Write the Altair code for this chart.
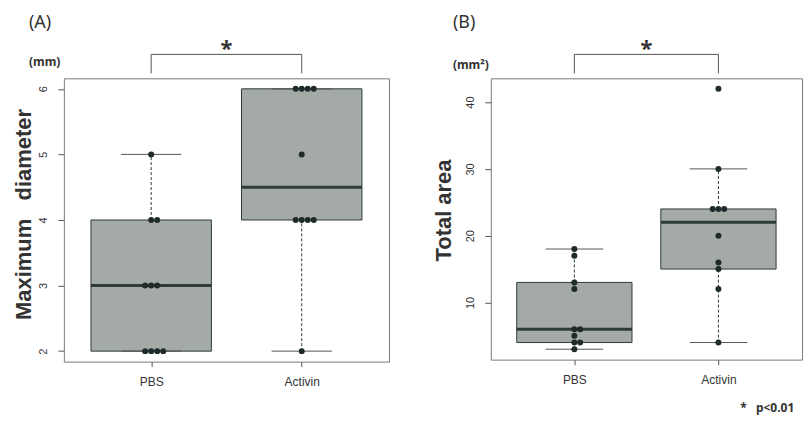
import json
import numpy as np
import pandas as pd
import altair as alt

# ---------------- data ----------------
groups = ["PBS", "Activin"]
diam_pbs = [2, 2, 2, 2, 3, 3, 3, 4, 4, 5]
diam_activin = [2, 4, 4, 4, 4, 5, 6, 6, 6, 6]
area_pbs = [3, 4, 4, 5, 6, 6, 12, 13, 17, 18]
area_activin = [4, 12, 15, 16, 20, 24, 24, 24, 30, 42]
diam_ticks = [2, 3, 4, 5, 6]
area_ticks = [10, 20, 30, 40]
panel_letters = ["(A)", "(B)"]
units = ["(mm)", "(mm\u00b2)"]
y_titles = ["Maximum\u00a0\u00a0\u00a0diameter", "Total area"]
sig_mark = ["*"]
footnote = ["*\u00a0\u00a0\u00a0p<0.01"]

# ---------------- styles ----------------
FILL = "#a4aba7"
LINE = "#2e3b3a"
DOT = "#1f2a2a"
FRAME = "#7a7a7a"
TXT = "#333333"
SANS = "Liberation Sans"
ANN = "Noto Sans"


def fivenum(v):
    s = np.sort(np.asarray(v, float))
    n = len(s)
    n4 = np.floor((n + 3) / 2) / 2
    d = np.array([1, n4, (n + 1) / 2, n + 1 - n4, n]) - 1
    return 0.5 * (s[np.floor(d).astype(int)] + s[np.ceil(d).astype(int)])


def build(series):
    stats_rows, pt_rows = [], []
    for i, (g, vals) in enumerate(zip(groups, series)):
        pos = i + 1
        _, q1, med, q3, _ = fivenum(vals)
        iqr = q3 - q1
        arr = np.asarray(vals, float)
        lo = arr[arr >= q1 - 1.5 * iqr].min()
        hi = arr[arr <= q3 + 1.5 * iqr].max()
        stats_rows.append(dict(group=g, pos=pos, lo=lo, q1=q1, med=med, q3=q3, hi=hi))
        counts = pd.Series(vals).value_counts()
        seen = {}
        for v in vals:
            k = seen.get(v, 0)
            seen[v] = k + 1
            n = counts[v]
            pt_rows.append(dict(group=g, pos=pos, value=v, slot=k - (n - 1) // 2))
    return pd.DataFrame(stats_rows), pd.DataFrame(pt_rows)


def panel(series, ticks, ytitle, letter, unit, w, h, title_x, title_y, unit_x, unit_y,
          slot_step, foot=False):
    stats, pts = build(series)
    allv = np.concatenate([np.asarray(s, float) for s in series])
    r = allv.max() - allv.min()
    ydom = [allv.min() - 0.04 * r, allv.max() + 0.04 * r]
    xdom = [1 - 0.5 - 0.04 * 2, 2 + 0.5 + 0.04 * 2]
    xs = alt.Scale(domain=xdom, nice=False, zero=False)
    ys = alt.Scale(domain=ydom, nice=False, zero=False)
    xaxis = alt.Axis(values=[1, 2], labelExpr=json.dumps(groups) + "[datum.value - 1]",
                     title=None, domain=False, grid=False, tickSize=5, tickColor="#555",
                     labelFont=SANS, labelFontSize=12, labelColor=TXT, labelPadding=10)
    yaxis = alt.Axis(values=ticks, title=ytitle, domain=False, grid=False, tickSize=6,
                     tickColor="#555", labelAngle=270, labelAlign="center",
                     labelBaseline="bottom", labelFont=SANS, labelFontSize=11,
                     labelColor=TXT, labelPadding=9, titleAngle=270,
                     titleBaseline="alphabetic", titleAlign="center", titleX=title_x,
                     titleY=title_y, titleFont=SANS, titleFontSize=22,
                     titleFontWeight="bold", titleColor=TXT)

    sb = alt.Chart(stats)
    box = sb.mark_rect(fill=FILL, stroke=LINE, strokeWidth=1).transform_calculate(
        xl="datum.pos - 0.4", xr="datum.pos + 0.4").encode(
        x=alt.X("xl:Q", scale=xs, axis=xaxis), x2="xr:Q",
        y=alt.Y("q1:Q", scale=ys, axis=yaxis), y2="q3:Q")
    med = sb.mark_rule(color=LINE, strokeWidth=3).transform_calculate(
        xl="datum.pos - 0.4", xr="datum.pos + 0.4").encode(
        x=alt.X("xl:Q", scale=xs, axis=xaxis), x2="xr:Q",
        y=alt.Y("med:Q", scale=ys, axis=yaxis))
    wh_up = sb.mark_rule(color=LINE, strokeWidth=1, strokeDash=[3, 2]).encode(
        x=alt.X("pos:Q", scale=xs, axis=xaxis),
        y=alt.Y("q3:Q", scale=ys, axis=yaxis), y2="hi:Q")
    wh_lo = sb.mark_rule(color=LINE, strokeWidth=1, strokeDash=[3, 2]).encode(
        x=alt.X("pos:Q", scale=xs, axis=xaxis),
        y=alt.Y("lo:Q", scale=ys, axis=yaxis), y2="q1:Q")
    cap_up = sb.mark_rule(color="#555", strokeWidth=1).transform_calculate(
        xl="datum.pos - 0.2", xr="datum.pos + 0.2").encode(
        x=alt.X("xl:Q", scale=xs, axis=xaxis), x2="xr:Q",
        y=alt.Y("hi:Q", scale=ys, axis=yaxis))
    cap_lo = sb.mark_rule(color="#555", strokeWidth=1).transform_calculate(
        xl="datum.pos - 0.2", xr="datum.pos + 0.2").encode(
        x=alt.X("xl:Q", scale=xs, axis=xaxis), x2="xr:Q",
        y=alt.Y("lo:Q", scale=ys, axis=yaxis))
    dots = alt.Chart(pts).mark_circle(color=DOT, opacity=1, size=36).transform_calculate(
        xp=f"datum.pos + datum.slot * {slot_step}").encode(
        x=alt.X("xp:Q", scale=xs, axis=xaxis),
        y=alt.Y("value:Q", scale=ys, axis=yaxis))

    # significance bracket between the two groups
    br_h = sb.mark_rule(color="#555", strokeWidth=1).transform_aggregate(
        a="min(pos)", b="max(pos)").encode(
        x=alt.X("a:Q", scale=xs, axis=xaxis), x2="b:Q", y=alt.value(-24))
    br_v = sb.mark_rule(color="#555", strokeWidth=1).encode(
        x=alt.X("pos:Q", scale=xs, axis=xaxis), y=alt.value(-24), y2=alt.value(-5))
    star = sb.mark_text(font=ANN, fontSize=22, fontWeight="bold", color=TXT,
                        baseline="alphabetic").transform_aggregate(
        m="mean(pos)").transform_calculate(t=json.dumps(sig_mark[0])).encode(
        x=alt.X("m:Q", scale=xs, axis=xaxis), y=alt.value(-22), text="t:N")

    lab = alt.Chart(pd.DataFrame({"t": [letter]})).mark_text(
        font=ANN, fontSize=18, color=TXT, align="left", baseline="alphabetic").encode(
        x=alt.value(unit_x), y=alt.value(-50), text="t:N")
    un = alt.Chart(pd.DataFrame({"t": [unit]})).mark_text(
        font=ANN, fontSize=12, fontWeight="bold", color=TXT, align="left",
        baseline="alphabetic").encode(x=alt.value(unit_x), y=alt.value(unit_y), text="t:N")

    layers = [box, wh_up, wh_lo, cap_up, cap_lo, med, dots, br_h, br_v, star, lab, un]
    if foot:
        fn = alt.Chart(pd.DataFrame({"t": footnote})).mark_text(
            font=ANN, fontSize=12, fontWeight="bold", color=TXT, align="left",
            baseline="alphabetic").encode(x=alt.value(250), y=alt.value(335), text="t:N")
        layers.append(fn)
    return alt.layer(*layers).properties(width=w, height=h)


pa = panel([diam_pbs, diam_activin], diam_ticks, y_titles[0], panel_letters[0], units[0],
           326, 284, -33, 136, -35, -12, 0.04)
pb = panel([area_pbs, area_activin], area_ticks, y_titles[1], panel_letters[1], units[1],
           312, 282, -40, 132, -38, -9, 0.04, foot=True)

chart = alt.hconcat(pa, pb, spacing=102, bounds="flush").properties(
    padding={"left": 4, "top": 5, "right": 0, "bottom": 0}
).configure_view(stroke=FRAME, strokeWidth=1)

chart.save("out.html", embed_options={"renderer": "svg", "actions": False})
